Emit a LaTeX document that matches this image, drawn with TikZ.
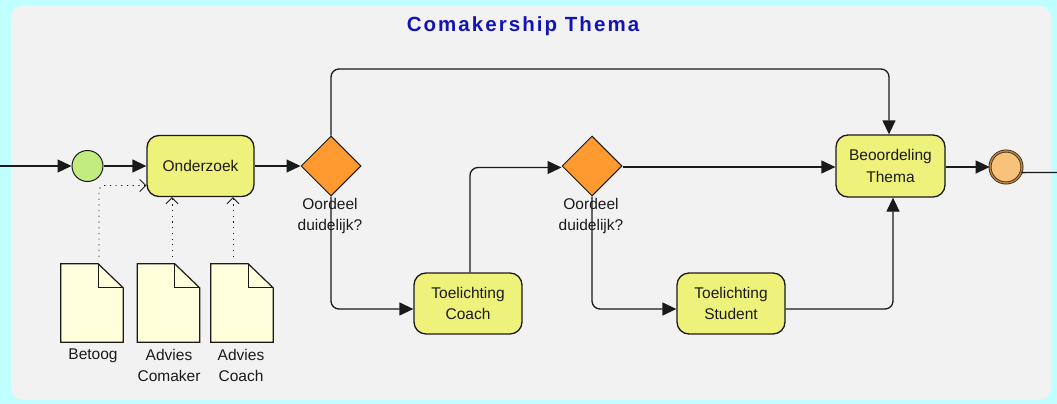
\documentclass[tikz,border=0pt]{standalone}
\usepackage{fontspec}
\setmainfont{Liberation Sans}
\newfontfamily\titlefont[LetterSpace=10]{Liberation Sans}
\usetikzlibrary{arrows.meta,shapes.geometric,calc}
\definecolor{outerbg}{HTML}{C0FFFF}
\definecolor{poolbg}{HTML}{F2F2F2}
\definecolor{taskfill}{HTML}{EEF27A}
\definecolor{gwfill}{HTML}{FF9A30}
\definecolor{startfill}{HTML}{C2EC7E}
\definecolor{endfill}{HTML}{F8C27A}
\definecolor{docfill}{HTML}{FFFFDC}
\definecolor{titleblue}{HTML}{1414B4}
\definecolor{linec}{HTML}{1A1A1A}
\definecolor{endring}{HTML}{B8823A}
\tikzset{
  txt/.style={font=\fontsize{15.5}{21.5}\selectfont, align=center, text=linec},
  task/.style={txt, draw=linec, line width=1.3pt, fill=taskfill, rounded corners=12pt,
    minimum width=108pt, minimum height=61pt, inner sep=0pt},
  gateway/.style={diamond, aspect=1, draw=linec, line width=1pt, fill=gwfill,
    minimum width=60pt, minimum height=60pt, inner sep=0pt},
  startev/.style={circle, draw=linec, line width=1pt, fill=startfill, minimum size=31pt, inner sep=0pt},
  endev/.style={circle, draw=linec!80!brown, line width=0.8pt, double=endring, double distance=1.4pt,
    fill=endfill, minimum size=32pt, inner sep=0pt},
  docnode/.style={rectangle, minimum width=62pt, minimum height=78pt, inner sep=0pt},
  docshape/.style={draw=linec, line width=1.2pt, fill=docfill, line join=miter},
  lbl/.style={txt, inner sep=0pt, anchor=north},
  flow/.style={draw=linec, line width=1.3pt, rounded corners=8pt, -{Triangle[length=14pt,width=13pt]}},
  dep/.style={draw=linec, line width=0.9pt, dash pattern=on 1.2pt off 4.5pt, rounded corners=5pt,
    -{Straight Barb[length=6pt,width=12pt,line width=0.9pt]}},
}
\begin{document}
\begin{tikzpicture}[x=1pt,y=-1pt]
\useasboundingbox (0,0) rectangle (1057,404);
\fill[outerbg] (0,0) rectangle (1057,404);
\fill[poolbg, rounded corners=12pt] (11,6) rectangle (1051,400);

\node[anchor=base, text=titleblue, font=\titlefont\bfseries\fontsize{20.5}{24}\selectfont] (title) at (523,32) {Comakership Thema};

% events, tasks, gateways
\coordinate (in) at (0,166);
\node[startev] (start) at (87.5,166) {};
\node[task, minimum width=107pt] (onderzoek) at (200.5,166) {Onderzoek};
\node[gateway] (d1) at (331,166) {};
\node[task] (coach) at (468,303.5) {Toelichting\\Coach};
\node[gateway] (d2) at (592,166) {};
\node[task] (student) at (731,303.5) {Toelichting\\Student};
\node[task, minimum width=109pt, minimum height=62pt] (beoord) at (890.5,166) {Beoordeling\\Thema};
\node[endev] (end) at (1006,167) {};
\coordinate (out) at (1057,172.5);

% gateway labels
\node[lbl] (l1) at (330,197.7) {Oordeel\\duidelijk?};
\node[lbl] (l2) at (591,197.7) {Oordeel\\duidelijk?};

% documents
\node[docnode] (betoog) at (92,303) {};
\node[docnode] (comaker) at (168.5,303) {};
\node[docnode] (coachdoc) at (242,303) {};
\foreach \d in {betoog,comaker,coachdoc}{
  \filldraw[docshape] (\d.north west) -- ([xshift=-25pt]\d.north east) -- ([yshift=-24pt]\d.north east)
     -- (\d.south east) -- (\d.south west) -- cycle;
  \draw[docshape, fill=none] ([xshift=-25pt]\d.north east) -- ([xshift=-25pt,yshift=-24pt]\d.north east)
     -- ([yshift=-24pt]\d.north east);
}
\node[lbl] (lb1) at (93,348.7) {Betoog};
\node[lbl] (lb2) at (169,348.7) {Advies\\Comaker};
\node[lbl] (lb3) at (241,348.7) {Advies\\Coach};

% sequence flows
\draw[flow] (in) -- (start.west);
\draw[flow] (start.east) -- (onderzoek.west);
\draw[flow] (onderzoek.east) -- (d1.west);
\draw[flow] (d1.north) -- (d1.north |- 0,69) -- ([xshift=-1.5pt]beoord.north |- 0,69) -- ([xshift=-1.5pt]beoord.north);
\draw[flow] (d1.south) |- ([yshift=-5.5pt]coach.west);
\draw[flow] ([xshift=2pt]coach.north) |- ([yshift=-1.5pt]d2.west);
\draw[flow] ([yshift=-1pt]d2.east) -- ([yshift=-1pt]beoord.west);
\draw[flow] (d2.south) |- ([yshift=-5.5pt]student.west);
\draw[flow] ([yshift=-5.5pt]student.east) -| ([xshift=2.5pt]beoord.south);
\draw[flow] ([yshift=-1pt]beoord.east) -- (end.west);
\draw[draw=linec, line width=1.3pt] (end.-20) -- (out);

% associations
\draw[dep] ([xshift=7pt,yshift=7pt]betoog.north) |- ([yshift=-19.5pt]onderzoek.west);
\draw[dep] ([xshift=3.5pt,yshift=7pt]comaker.north) -- ([xshift=3.5pt]comaker.north |- onderzoek.south);
\draw[dep] ([xshift=-9pt,yshift=7pt]coachdoc.north) -- ([xshift=-9pt]coachdoc.north |- onderzoek.south);
\end{tikzpicture}
\end{document}
